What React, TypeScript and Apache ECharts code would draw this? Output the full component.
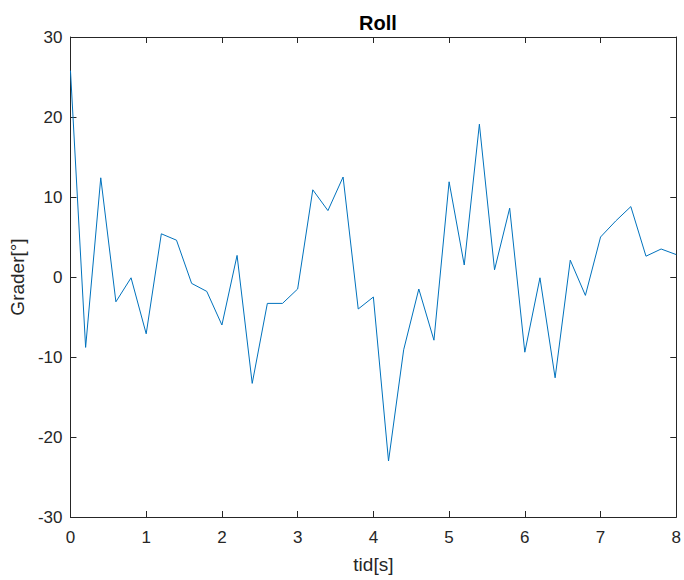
import React, { useEffect, useRef } from "react";
import * as echarts from "echarts";

const times = [0, 0.2, 0.4, 0.6, 0.8, 1.0, 1.2, 1.4, 1.6, 1.8, 2.0, 2.2, 2.4, 2.6, 2.8, 3.0, 3.2, 3.4, 3.6, 3.8, 4.0, 4.2, 4.4, 4.6, 4.8, 5.0, 5.2, 5.4, 5.6, 5.8, 6.0, 6.2, 6.4, 6.6, 6.8, 7.0, 7.2, 7.4, 7.6, 7.8, 8.0];
const roll = [25.8, -8.8, 12.4, -3.1, -0.1, -7.1, 5.4, 4.6, -0.8, -1.8, -6.0, 2.7, -13.3, -3.3, -3.3, -1.5, 10.9, 8.3, 12.5, -4.0, -2.5, -23.0, -9.1, -1.5, -7.9, 11.9, 1.5, 19.1, 0.9, 8.6, -9.4, -0.1, -12.6, 2.1, -2.3, 5.0, 7.0, 8.8, 2.6, 3.5, 2.8];

const title = "Roll";
const xName = "tid[s]";
const yName = "Grader[°]";

export default function App() {
  const ref = useRef<HTMLDivElement>(null);
  useEffect(() => {
    if (!ref.current) return;
    const chart = echarts.init(ref.current, null, { renderer: "svg" });
    const axisColor = "#262626";
    const font = "'Liberation Sans', Arial, Helvetica, sans-serif";
    const line = { show: true, lineStyle: { color: axisColor, width: 1 } };
    const tick = { show: true, inside: true, length: 6, lineStyle: { color: axisColor, width: 1 } };
    chart.setOption({
      animation: false,
      backgroundColor: "#ffffff",
      title: {
        text: title,
        left: 354,
        top: 8,
        textStyle: { fontFamily: font, fontSize: 20, fontWeight: "bold", color: "#000" },
      },
      grid: { left: 69, top: 37, width: 608, height: 480, containLabel: false },
      xAxis: [
        {
          type: "value",
          min: 0,
          max: 8,
          interval: 1,
          position: "bottom",
          name: xName,
          nameLocation: "middle",
          nameGap: 38,
          nameTextStyle: { fontFamily: font, fontSize: 19, color: axisColor },
          axisLine: { ...line, onZero: false },
          axisTick: tick,
          axisLabel: { fontFamily: font, fontSize: 17, color: axisColor, margin: 12 },
          splitLine: { show: false },
        },
        {
          type: "value",
          min: 0,
          max: 8,
          interval: 1,
          position: "top",
          axisLine: { ...line, onZero: false },
          axisTick: tick,
          axisLabel: { show: false },
          splitLine: { show: false },
        },
      ],
      yAxis: [
        {
          type: "value",
          min: -30,
          max: 30,
          interval: 10,
          position: "left",
          name: yName,
          nameLocation: "middle",
          nameGap: 33,
          nameTextStyle: { fontFamily: font, fontSize: 19, color: axisColor },
          axisLine: { ...line, onZero: false },
          axisTick: tick,
          axisLabel: { fontFamily: font, fontSize: 17, color: axisColor, margin: 8 },
          splitLine: { show: false },
        },
        {
          type: "value",
          min: -30,
          max: 30,
          interval: 10,
          position: "right",
          axisLine: { ...line, onZero: false },
          axisTick: tick,
          axisLabel: { show: false },
          splitLine: { show: false },
        },
      ],
      series: [
        {
          type: "line",
          data: times.map((t, i) => [t, roll[i]]),
          showSymbol: false,
          symbol: "none",
          lineStyle: { color: "#0072BD", width: 1 },
          xAxisIndex: 0,
          yAxisIndex: 0,
        },
      ],
    });
    return () => chart.dispose();
  }, []);
  return (
    <div
      ref={ref}
      style={{ position: "absolute", left: 0, top: 0, width: 684, height: 580 }}
    />
  );
}
